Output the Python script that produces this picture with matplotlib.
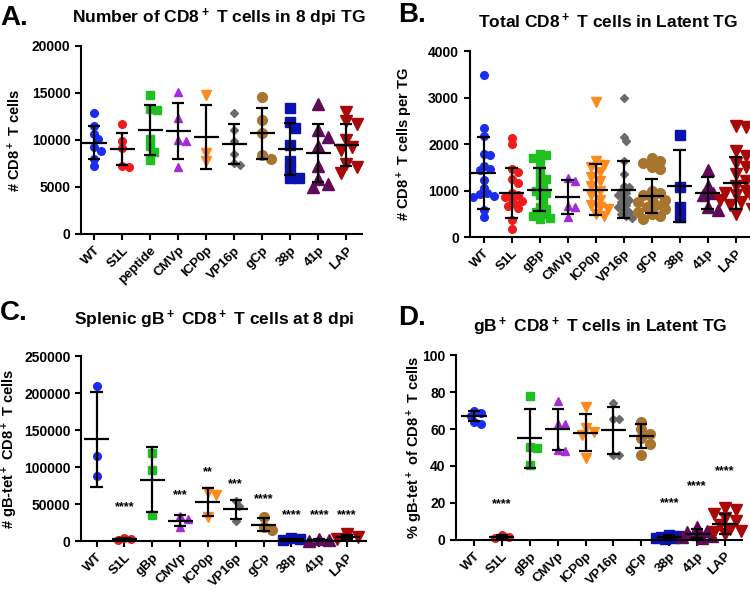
import numpy as np
import matplotlib.pyplot as plt

plt.rcParams['font.family'] = ['Liberation Sans', 'DejaVu Sans']
plt.rcParams['font.weight'] = 'bold'
plt.rcParams['mathtext.fontset'] = 'custom'
plt.rcParams['mathtext.rm'] = 'Liberation Sans:bold'
plt.rcParams['mathtext.bf'] = 'Liberation Sans:bold'
plt.rcParams['mathtext.default'] = 'bf'

groups_a = ['WT', 'S1L', 'peptide', 'CMVp', 'ICP0p', 'VP16p', 'gCp', '38p', '41p', 'LAP']
groups_bcd = ['WT', 'S1L', 'gBp', 'CMVp', 'ICP0p', 'VP16p', 'gCp', '38p', '41p', 'LAP']

colors = ['#1a2cf0', '#f01c1c', '#1fc01f', '#a52ad8', '#ff8a1e', '#6a6a6a',
          '#a8752e', '#0a12b0', '#600a5a', '#a80808']
markers = ['o', 'o', 's', '^', 'v', 'D', 'o', 's', '^', 'v']
msizes = [5.5, 5.5, 5.5, 6, 6.5, 4.5, 7, 7, 8, 8.5]

# A. CD8+ T cells in 8 dpi TG
a_pts = [
    [12850, 11500, 10650, 10100, 9200, 8800, 8000, 7200],
    [11700, 9900, 9100, 7200, 7150],
    [14800, 13300, 13200, 10100, 9350, 8750, 7850],
    [15100, 12300, 10000, 9900, 7100],
    [14750, 8650, 7750],
    [12850, 11100, 9900, 8500, 7500, 7350],
    [14600, 12100, 10700, 8400, 8000],
    [13400, 11950, 11300, 9500, 7800, 6800, 6000, 5900],
    [13800, 11000, 10300, 9300, 7200, 5800, 5300, 5000],
    [13000, 12000, 11700, 10000, 9200, 8900, 7400, 7100, 6500],
]
a_mean = [9700, 8990, 11040, 10930, 10330, 9550, 10690, 9020, 8560, 9450]
a_sd = [1770, 1700, 2650, 3010, 3430, 2090, 2725, 2800, 3080, 2190]

# B. total CD8+ T cells in latent TG
b_pts = [
    [3480, 2350, 2170, 1780, 1770, 1540, 1460, 1440, 1220, 1060, 960, 930, 880, 870, 590, 430],
    [2140, 2010, 1470, 1410, 1260, 1170, 950, 900, 870, 820, 780, 720, 680, 620, 370, 170],
    [1780, 1760, 1700, 1600, 1450, 1300, 1250, 1150, 1050, 1000, 950, 900, 800, 650, 600,
     550, 500, 450, 420, 400],
    [1270, 1200, 680, 640, 440],
    [2900, 1640, 1550, 1500, 1400, 1300, 1200, 1100, 1000, 900, 800, 700, 650, 600, 500, 450],
    [3000, 2160, 2070, 1650, 1350, 1100, 1080, 1000, 950, 900, 850, 800, 750, 700, 650, 600,
     550, 500, 450, 420],
    [1700, 1650, 1600, 1520, 1470, 1000, 950, 900, 850, 800, 750, 700, 650, 600, 550, 500,
     450, 400],
    [2200, 1090, 650, 430],
    [1450, 1100, 950, 900, 650, 580],
    [2400, 2380, 1850, 1750, 1600, 1500, 1350, 1200, 1100, 1000, 950, 900, 850, 800, 750,
     700, 600, 500],
]
b_mean = [1383, 953, 1025, 867, 1025, 1025, 882, 1097, 953, 1168]
b_sd = [778, 545, 466, 373, 548, 620, 368, 780, 350, 563]

# C. splenic gB+ CD8+ T cells at 8 dpi
c_pts = [
    [209000, 115000, 87500],
    [4500, 3000, 1800],
    [119000, 95500, 34700],
    [33500, 29500, 19500],
    [66000, 62000, 32000],
    [53500, 47500, 27000],
    [32500, 18500, 15500],
    [3500, 2500, 1500],
    [2500, 1500, 600],
    [9000, 5500, 3000],
]
c_mean = [137456, 3000, 83130, 27490, 52840, 42700, 22150, 2500, 1500, 5740]
c_sd = [64000, 800, 43500, 7300, 18700, 13340, 9000, 700, 800, 2500]
c_stars = ['', '****', '', '***', '**', '***', '****', '****', '****', '****']
c_star_y = [0, 45700, 0, 61400, 92500, 76900, 56400, 34700, 34700, 34700]

# D. gB+ CD8+ T cells in latent TG (%)
d_pts = [
    [70, 68.5, 67, 64, 63],
    [2.8, 1.6, 0.9],
    [78, 50.5, 50, 40.5],
    [75, 63, 62.5, 48.5, 48],
    [72, 60.5, 58.5, 57, 44.5],
    [74, 65.5, 65.5, 46, 46],
    [64, 60, 57.5, 55, 52, 46],
    [2.8, 2.2, 1.8, 1.5, 1.2, 1.0, 0.6],
    [7, 5, 4, 3, 2, 1.5, 0.8],
    [17, 16, 14, 12, 10, 8, 6, 5, 4, 3],
]
d_mean = [67, 1.8, 54.9, 59.9, 58.1, 59.4, 56.3, 1.8, 3.4, 8.6]
d_sd = [2.8, 0.7, 16.2, 11.2, 9.9, 12.7, 6.7, 0.6, 2.3, 5.4]
d_stars = ['', '****', '', '', '', '', '', '****', '****', '****']
d_star_y = [0, 19.1, 0, 0, 0, 0, 0, 19.9, 29.2, 37]


def spread(vals, px_per_unit, diam, cat_px=28.0):
    # simple beeswarm: push points sideways when they would overlap
    vals = np.asarray(vals, dtype=float)
    offs = np.zeros(len(vals))
    placed = []
    step = diam * 0.45
    for i in np.argsort(vals)[::-1]:
        y = vals[i] * px_per_unit
        best, best_d = 0.0, -1
        for k in [0, 1, -1, 2, -2, 3, -3]:
            x = k * step
            dmin = min([np.hypot(x - px, y - py) for px, py in placed] + [1e9])
            if dmin >= diam * 0.75:
                best = x
                break
            if dmin > best_d:
                best, best_d = x, dmin
        placed.append((best, y))
        offs[i] = best
    return offs / cat_px


def panel(ax, names, pts, mean, sd, ymax, ystep, px_unit, xlim, ylabel, cap=0.22):
    for i in range(len(names)):
        diam = msizes[i] / 0.72
        x = i + spread(pts[i], px_unit, diam)
        ax.plot(x, pts[i], linestyle='none', marker=markers[i], ms=msizes[i],
                color=colors[i], mec=colors[i], zorder=2, clip_on=False)
        ax.vlines(i, mean[i] - sd[i], mean[i] + sd[i], color='black', lw=1.6, zorder=3)
        ax.hlines([mean[i] - sd[i], mean[i] + sd[i]], i - cap, i + cap, color='black',
                  lw=1.6, zorder=3)
        ax.hlines(mean[i], i - 0.45, i + 0.45, color='black', lw=1.6, zorder=3)
    ax.set_xlim(*xlim)
    ax.set_ylim(0, ymax)
    ax.set_yticks(np.arange(0, ymax + 1, ystep))
    ax.set_xticks(range(len(names)))
    ax.set_xticklabels(names, rotation=45, ha='right', rotation_mode='anchor')
    for s in ['top', 'right']:
        ax.spines[s].set_visible(False)
    for s in ['left', 'bottom']:
        ax.spines[s].set_linewidth(1.5)
    ax.tick_params(width=1.5, length=4)
    ax.tick_params(axis='y', labelsize=10)
    ax.tick_params(axis='x', labelsize=9.5)
    ax.set_ylabel(ylabel, fontsize=10.5, fontweight='bold')


fig = plt.figure(figsize=(7.5, 5.9), dpi=100)

axA = fig.add_axes([0.108, 0.6034, 0.375, 0.319])
panel(axA, groups_a, a_pts, a_mean, a_sd, 20000, 5000, 188.3 / 20000, (-0.47, 9.57),
      '# CD8$^+$ T cells')
axA.yaxis.set_label_coords(-0.205, 0.5)

axB = fig.add_axes([0.626, 0.598, 0.372, 0.315])
panel(axB, groups_bcd, b_pts, b_mean, b_sd, 4000, 1000, 186 / 4000, (-0.5, 9.46),
      '# CD8$^+$ T cells per TG')
axB.yaxis.set_label_coords(-0.195, 0.5)

axC = fig.add_axes([0.108, 0.083, 0.38, 0.3135])
panel(axC, groups_bcd, c_pts, c_mean, c_sd, 250000, 50000, 185 / 250000, (-0.56, 9.68),
      '# gB-tet$^+$ CD8$^+$ T cells')
axC.yaxis.set_label_coords(-0.215, 0.5)
for i, s in enumerate(c_stars):
    if s:
        axC.text(i, c_star_y[i], s, ha='center', va='center', fontsize=9)

axD = fig.add_axes([0.608, 0.085, 0.381, 0.313])
panel(axD, groups_bcd, d_pts, d_mean, d_sd, 100, 20, 184.7 / 100, (-0.645, 9.6),
      '% gB-tet$^+$ of CD8$^+$ T cells')
axD.yaxis.set_label_coords(-0.11, 0.5)
for i, s in enumerate(d_stars):
    if s:
        axD.text(i, d_star_y[i], s, ha='center', va='center', fontsize=9)

# panel letters and titles
fig.text(0.0, 0.969, 'A.', fontsize=20, fontweight='bold', va='center')
fig.text(0.531, 0.975, 'B.', fontsize=20, fontweight='bold', va='center')
fig.text(0.0, 0.469, 'C.', fontsize=20, fontweight='bold', va='center')
fig.text(0.531, 0.461, 'D.', fontsize=20, fontweight='bold', va='center')

fig.text(0.292, 0.969, 'Number of CD8$^+$ T cells in 8 dpi TG', fontsize=12.5,
         fontweight='bold', ha='center', va='center')
fig.text(0.811, 0.963, 'Total CD8$^+$ T cells in Latent TG', fontsize=12.5,
         fontweight='bold', ha='center', va='center')
fig.text(0.285, 0.458, 'Splenic gB$^+$ CD8$^+$ T cells at 8 dpi', fontsize=12.5,
         fontweight='bold', ha='center', va='center')
fig.text(0.80, 0.446, 'gB$^+$ CD8$^+$ T cells in Latent TG', fontsize=12.5,
         fontweight='bold', ha='center', va='center')

fig.savefig('out.png', dpi=100)
